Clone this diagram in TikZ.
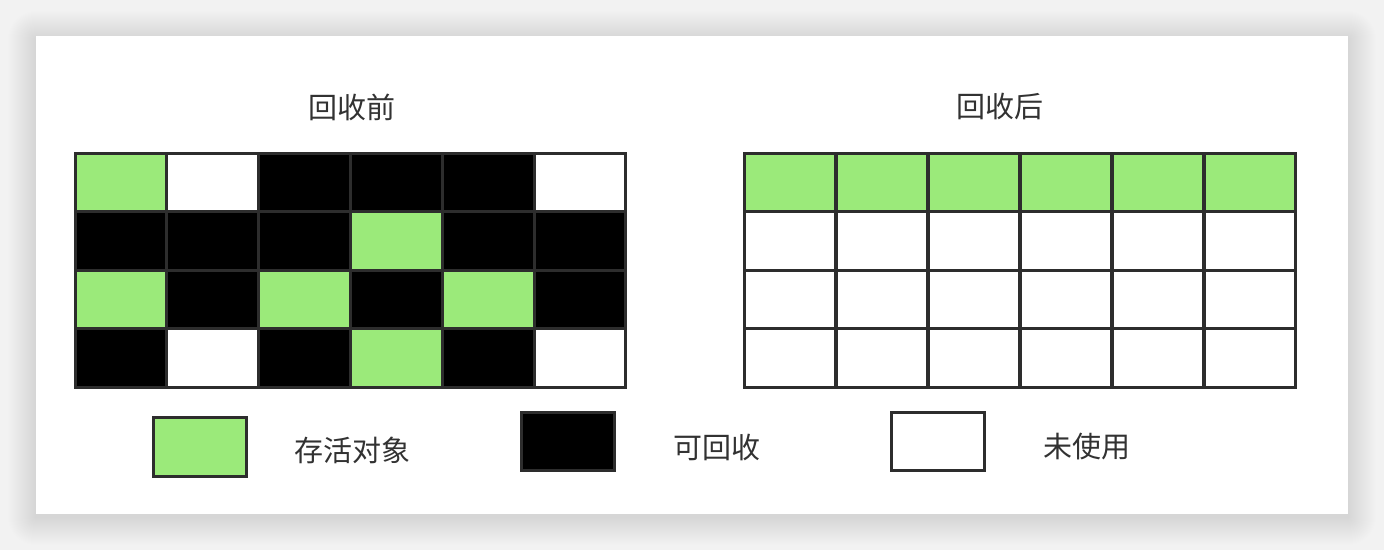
\documentclass[tikz,border=0pt]{standalone}
\usepackage{fontspec}
\setmainfont{Noto Sans CJK SC}
\usetikzlibrary{positioning}

\definecolor{alivegreen}{RGB}{155,234,122}
\definecolor{gridedge}{RGB}{45,45,45}
\definecolor{labelgray}{RGB}{50,50,50}
\definecolor{pagegray}{RGB}{242,242,242}

\tikzset{
		heap cell/.style = {shape=rectangle, draw=gridedge, line width=3pt,
				minimum width=91.8pt, minimum height=58.5pt,
				inner sep=0pt, outer sep=0pt},
		alive cell/.style   = {heap cell, fill=alivegreen},
		garbage cell/.style = {heap cell, fill=black},
		empty cell/.style   = {heap cell, fill=white},
		legend box/.style   = {minimum width=93pt, minimum height=58pt},
		caption/.style      = {font=\fontsize{29}{32}\selectfont, text=labelgray, inner sep=0pt}
	}

\begin{document}
\begin{tikzpicture}[x=1pt, y=-1pt]
		% page and card
		\fill[pagegray] (0,0) rectangle (1384,550);
		\useasboundingbox (0,0) rectangle (1384,550);
		\foreach \s in {1,...,28}
			\fill[black, opacity=0.005, rounded corners=\s pt] (36-\s,36-\s+3) rectangle (1348+\s,514+\s+3);
		\fill[white] (36,36) rectangle (1348,514);

		% titles
		\node[caption] (title-before) at (352,107) {回收前};
		\node[caption] (title-after)  at (1000,107) {回收后};

		% heap before collection
		\foreach \row [count=\r from 0] in {{alive,empty,garbage,garbage,garbage,empty},
				{garbage,garbage,garbage,alive,garbage,garbage},
				{alive,garbage,alive,garbage,alive,garbage},
				{garbage,empty,garbage,alive,garbage,empty}}
			\foreach \kind [count=\c from 0] in \row
				\node[\kind\space cell] (before-\r-\c) at ({75+91.83*(\c+0.5)}, {153+58.5*(\r+0.5)}) {};

		% heap after collection
		\foreach \r in {0,...,3}
			\foreach \c in {0,...,5} {
				\ifnum\r=0 \def\kind{alive}\else \def\kind{empty}\fi
				\node[\kind\space cell] (after-\r-\c) at ({744+92*(\c+0.5)}, {153+58.5*(\r+0.5)}) {};
			}

		% legend
		\node[alive cell, legend box, minimum height=59pt] (key-alive) at (200,446.5) {};
		\node[caption, right=48pt of key-alive, yshift=-4pt] (text-alive) {存活对象};
		\node[garbage cell, legend box] (key-garbage) at (567.5,441) {};
		\node[caption, right=59pt of key-garbage, yshift=-6pt] (text-garbage) {可回收};
		\node[empty cell, legend box] (key-empty) at (937.5,441) {};
		\node[caption, right=59pt of key-empty, yshift=-6pt] (text-empty) {未使用};
	\end{tikzpicture}
\end{document}
